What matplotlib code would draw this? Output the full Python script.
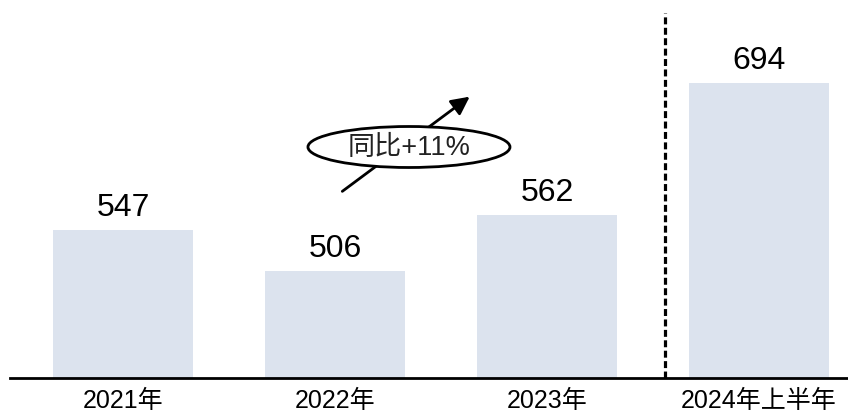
import matplotlib.pyplot as plt
from matplotlib.patches import Ellipse

plt.rcParams['font.family'] = ['Liberation Sans', 'Noto Sans CJK SC', 'DejaVu Sans']
plt.rcParams['lines.scale_dashes'] = False

# --- Data ---
categories = ['2021年', '2022年', '2023年', '2024年上半年']
values = [547, 506, 562, 694]
growth_label = '同比+11%'

bar_color = '#dce3ee'

fig = plt.figure(figsize=(8.48, 4.15), dpi=100)
ax = fig.add_axes([10 / 848, 37 / 415, 838 / 848, 378 / 415])

x = range(len(categories))
bars = ax.bar(x, values, width=0.66, color=bar_color, zorder=2)

for xi, v in zip(x, values):
    ax.text(xi, v + 7, f'{v}', ha='center', va='bottom', fontsize=23, color='black')

ax.set_xlim(-0.533, 3.42)
ax.set_ylim(399, 777)

# separator between full years and the half year
ax.plot([2.557, 2.557], [399, 764], color='black', lw=2.3, dashes=(5, 2.5), zorder=3)

# growth arrow with the ellipse label on top of it
ax.annotate('', xy=(1.646, 682), xytext=(1.024, 584),
            arrowprops=dict(arrowstyle='-|>,head_length=1.1,head_width=0.55',
                            color='black', lw=2), zorder=4)
ax.add_patch(Ellipse((1.349, 630), 0.953, 41, facecolor='white',
                     edgecolor='black', lw=2, zorder=5))
ax.text(1.349, 629, growth_label, ha='center', va='center', fontsize=19.5,
        color='#222222', zorder=6)

ax.set_xticks(list(x))
ax.set_xticklabels(categories, fontsize=18)
ax.tick_params(axis='x', length=0, pad=8)
ax.set_yticks([])
for side in ['top', 'right', 'left']:
    ax.spines[side].set_visible(False)
ax.spines['bottom'].set_linewidth(2)
ax.spines['bottom'].set_zorder(3)

fig.savefig('out.png', dpi=100)
